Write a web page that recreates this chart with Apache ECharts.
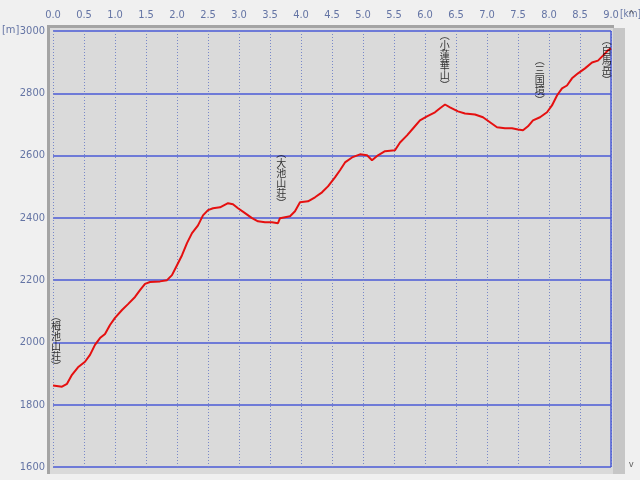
<!DOCTYPE html>
<html>
<head>
<meta charset="utf-8">
<script src="https://cdn.jsdelivr.net/npm/echarts@6/dist/echarts.min.js"></script>
<style>
html,body{margin:0;padding:0;background:#f0f0f0;}
#c{width:640px;height:480px;}
</style>
</head>
<body>
<div id="c"></div>
<script>
// distance along route [km]
var distKm = [0, 0.145, 0.226, 0.306, 0.403, 0.516, 0.597, 0.677, 0.758, 0.839, 0.919, 1.0, 1.113, 1.21, 1.323, 1.403, 1.484, 1.565, 1.726, 1.839, 1.919, 2.0, 2.081, 2.161, 2.242, 2.339, 2.419, 2.5, 2.581, 2.694, 2.823, 2.903, 2.984, 3.097, 3.21, 3.306, 3.419, 3.532, 3.629, 3.661, 3.823, 3.903, 3.984, 4.113, 4.226, 4.339, 4.435, 4.548, 4.629, 4.71, 4.823, 4.952, 5.065, 5.145, 5.242, 5.355, 5.516, 5.597, 5.71, 5.806, 5.919, 6.032, 6.161, 6.242, 6.323, 6.403, 6.532, 6.645, 6.806, 6.935, 7.048, 7.161, 7.29, 7.403, 7.5, 7.581, 7.661, 7.742, 7.855, 7.968, 8.048, 8.129, 8.21, 8.29, 8.371, 8.468, 8.581, 8.694, 8.79, 8.871, 8.952, 9.0];
// elevation [m]
var elevM = [1862, 1858, 1867, 1896, 1920, 1938, 1960, 1992, 2014, 2027, 2056, 2079, 2104, 2123, 2146, 2168, 2188, 2194, 2196, 2200, 2216, 2248, 2280, 2319, 2351, 2376, 2408, 2425, 2431, 2434, 2447, 2444, 2431, 2415, 2399, 2389, 2386, 2386, 2383, 2399, 2405, 2421, 2450, 2453, 2466, 2482, 2501, 2530, 2553, 2578, 2594, 2604, 2601, 2585, 2601, 2614, 2617, 2642, 2665, 2687, 2713, 2726, 2739, 2752, 2764, 2755, 2742, 2735, 2732, 2723, 2707, 2691, 2688, 2688, 2684, 2681, 2694, 2713, 2723, 2739, 2761, 2793, 2816, 2825, 2848, 2864, 2880, 2899, 2905, 2921, 2938, 2944];
// waypoints
var wpNames = ['栂池山荘', '大池山荘', '小蓮華山', '三国境', '白馬岳'];
var wpKm = [0.05, 3.68, 6.32, 7.85, 8.93];
var wpElev = [1862, 2386, 2764, 2716, 2938];
// axis ticks
var xTicks = [0, 0.5, 1, 1.5, 2, 2.5, 3, 3.5, 4, 4.5, 5, 5.5, 6, 6.5, 7, 7.5, 8, 8.5, 9];
var yTicks = [1600, 1800, 2000, 2200, 2400, 2600, 2800, 3000];

var profile = distKm.map(function (d, i) { return [d, elevM[i]]; });
var wpData = wpNames.map(function (n, i) {
  return { name: n, value: [wpKm[i], Math.min(wpElev[i], 2780)] };
});

var labelFont = '"Liberation Sans Narrow","DejaVu Sans Condensed","Liberation Sans",sans-serif';
var axisColor = '#6474a4';

var chart = echarts.init(document.getElementById('c'), null, { renderer: 'canvas' });
chart.setOption({
  backgroundColor: '#f0f0f0',
  animation: false,
  grid: { left: 53, right: 29, top: 31, bottom: 13, show: false },
  graphic: [
    { type: 'rect', z: -10, shape: { x: 47, y: 25, width: 567, height: 449 }, style: { fill: '#dadada' } },
    { type: 'rect', z: -9, shape: { x: 47, y: 25, width: 3, height: 449 }, style: { fill: '#a4a4a4' } },
    { type: 'rect', z: -9, shape: { x: 47, y: 25, width: 567, height: 3 }, style: { fill: '#a4a4a4' } },
    { type: 'rect', z: -9, shape: { x: 613, y: 28, width: 12, height: 446 }, style: { fill: '#c6c6c6' } },
    { type: 'text', left: 2, top: 25, style: { text: '[m]', fill: axisColor, font: '11px ' + labelFont } },
    { type: 'text', left: 620, top: 9, style: { text: '[km]', fill: axisColor, font: '10px ' + labelFont } },
    { type: 'text', left: 629, top: 10, style: { text: '^', fill: '#606060', font: '10px sans-serif' } },
    { type: 'text', left: 629, top: 460, style: { text: 'v', fill: '#606060', font: '9px sans-serif' } }
  ],
  xAxis: {
    type: 'value', position: 'top', min: 0, max: 9, interval: 0.5,
    axisLine: { show: false }, axisTick: { show: false },
    axisLabel: {
      margin: 10, color: axisColor, fontSize: 11, fontFamily: labelFont,
      formatter: function (v) { return v.toFixed(1); },
      customValues: xTicks
    },
    splitLine: { show: true, lineStyle: { color: '#7888c8', width: 1, type: [1, 2] } }
  },
  yAxis: {
    type: 'value', min: 1600, max: 3000, interval: 200,
    axisLine: { show: false }, axisTick: { show: false },
    axisLabel: {
      margin: 8, color: axisColor, fontSize: 11, fontFamily: labelFont, customValues: yTicks,
      formatter: function (v) { return String(v); }
    },
    splitLine: { show: true, lineStyle: { color: '#4a5ad6', width: 1.5 } }
  },
  series: [
    {
      type: 'line', data: profile, showSymbol: false, symbol: 'none',
      lineStyle: { color: '#e51010', width: 2 }, z: 3
    },
    {
      type: 'line', data: [[9, 1600], [9, 3000]], showSymbol: false, symbol: 'none',
      lineStyle: { color: '#4a5ad6', width: 1.5 }, z: 2, silent: true
    },
    {
      type: 'scatter', data: wpData, symbolSize: 0, z: 4,
      label: {
        show: true, position: 'top', distance: 14,
        color: '#000000', fontSize: 10, lineHeight: 10,
        fontFamily: '"Noto Sans CJK JP",sans-serif',
        formatter: function (p) {
          return ['︵'].concat(p.name.split('')).concat(['︶']).join('\n');
        }
      }
    }
  ]
});
</script>
</body>
</html>
